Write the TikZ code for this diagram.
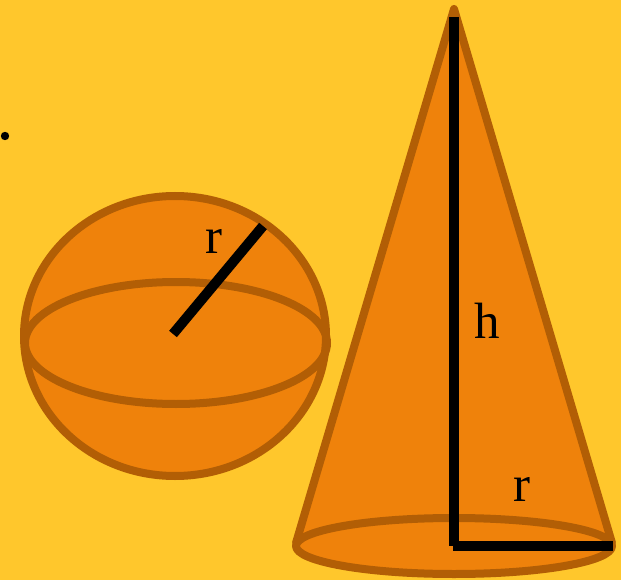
\documentclass[tikz,border=0pt]{standalone}
\usepackage{fontspec}
\setmainfont{Liberation Serif}
\begin{document}
\definecolor{bgyellow}{RGB}{255,199,44}
\definecolor{solidfill}{RGB}{239,130,11}
\definecolor{solidedge}{RGB}{178,94,5}
\begin{tikzpicture}[x=1pt,y=-1pt,
  solid/.style={fill=solidfill,draw=solidedge,line width=8pt,line join=round},
  edge/.style={draw=solidedge,line width=8pt},
  measure/.style={draw=black,line width=10pt},
  lbl/.style={font=\fontsize{51}{51}\selectfont,anchor=base,inner sep=0pt}]
  % background
  \fill[bgyellow] (0,0) rectangle (621,580);
  \useasboundingbox (0,0) rectangle (621,580);
  % stray dot
  \fill[black] (5,136) circle[radius=4.2];
  % sphere
  \path[solid] (175,336) ellipse[x radius=151,y radius=140];
  \path[edge] (176,343) ellipse[x radius=151,y radius=61];
  \draw[measure] (173,334) -- (263,226);
  \node[lbl] (rs) at (214,254) {r};
  % cone
  \path[solid] (296,543) -- (454,9) -- (612,543) -- cycle;
  \path[solid] (454,546) ellipse[x radius=158,y radius=28];
  \draw[measure] (454,17) -- (454,546);
  \draw[measure] (453,546) -- (613,546);
  \node[lbl] (h) at (487,338) {h};
  \node[lbl] (rc) at (522,501) {r};
\end{tikzpicture}
\end{document}
